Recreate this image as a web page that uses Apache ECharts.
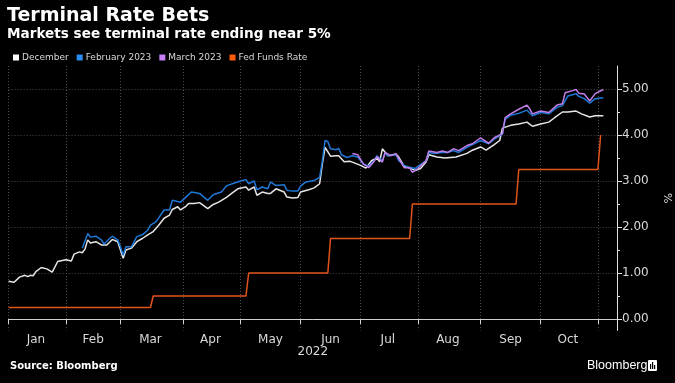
<!DOCTYPE html>
<html>
<head>
<meta charset="utf-8">
<script src="https://cdn.jsdelivr.net/npm/echarts@6/dist/echarts.min.js"></script>
<style>
html,body{margin:0;padding:0;background:#000;}
#chart{width:675px;height:383px;}
</style>
</head>
<body>
<div id="chart"></div>
<script>
// ---------- text ----------
const chartTitle = 'Terminal Rate Bets';
const chartSubtitle = 'Markets see terminal rate ending near 5%';
const sourceText = 'Source: Bloomberg';
const brandText = 'Bloomberg';
const yearLabel = '2022';
const yUnit = '%';
const seriesNames = ['December', 'February 2023', 'March 2023', 'Fed Funds Rate'];
const monthNames = ['Jan','Feb','Mar','Apr','May','Jun','Jul','Aug','Sep','Oct','Nov','Dec'];
const yTicks = [0, 1, 2, 3, 4, 5];
const yMinorTicks = [0.5, 1.5, 2.5, 3.5, 4.5];

// ---------- x categories: trading days (weekdays) of 2022 from Jan 3 ----------
const tradingDayCount = 224;
const tradingDays = [];
(function () {
  const d = new Date(Date.UTC(2022, 0, 3));
  while (tradingDays.length < tradingDayCount) {
    const wd = d.getUTCDay();
    if (wd !== 0 && wd !== 6) tradingDays.push(d.toISOString().slice(0, 10));
    d.setUTCDate(d.getUTCDate() + 1);
  }
})();

// ---------- series (x = trading-day number, y = rate %) ----------
const decDay = [0,2,4,6,7,8,9,10,12,14,16,18,21,23,24,26,27,28,29,30,32,34,36,38,40,41,42,43,45,47,49,51,53,55,57,59,60,62,63,65,66,68,70,73,75,77,80,82,84,87,88,90,91,93,95,96,98,101,102,104,106,107,110,112,114,115,116,118,120,121,123,125,126,129,131,133,135,136,137,139,142,143,145,147,149,151,153,154,157,160,164,168,170,173,175,178,180,181,184,187,190,192,195,198,200,203,205,208,210,213,215,218];
const decVal = [0.82,0.80,0.91,0.95,0.92,0.95,0.94,1.03,1.12,1.09,1.02,1.25,1.29,1.26,1.41,1.46,1.44,1.52,1.72,1.65,1.68,1.61,1.61,1.73,1.68,1.50,1.32,1.50,1.54,1.68,1.75,1.83,1.90,2.04,2.19,2.26,2.38,2.44,2.37,2.45,2.51,2.51,2.53,2.40,2.49,2.54,2.65,2.74,2.83,2.87,2.80,2.87,2.69,2.76,2.73,2.73,2.83,2.76,2.65,2.63,2.64,2.76,2.81,2.85,2.94,3.37,3.73,3.54,3.55,3.55,3.42,3.43,3.41,3.34,3.28,3.44,3.50,3.42,3.70,3.55,3.59,3.52,3.32,3.28,3.23,3.27,3.41,3.57,3.52,3.50,3.52,3.60,3.67,3.74,3.67,3.79,3.88,4.15,4.21,4.24,4.28,4.19,4.24,4.28,4.37,4.50,4.50,4.52,4.46,4.39,4.42,4.42];

const febDay = [27,29,30,32,34,35,37,38,40,41,42,43,45,47,49,51,52,54,57,59,60,63,65,67,70,73,75,78,80,82,85,87,88,90,91,93,95,96,98,101,102,104,106,107,109,112,114,115,116,117,118,120,121,122,124,126,128,130,132,134,135,137,138,139,142,143,145,147,149,150,153,154,156,159,161,163,165,168,170,173,176,178,181,182,184,187,190,192,195,198,201,203,205,207,208,209,211,213,215,218];
const febVal = [1.54,1.86,1.78,1.80,1.72,1.63,1.75,1.80,1.72,1.57,1.39,1.57,1.57,1.79,1.83,1.93,2.04,2.11,2.37,2.37,2.58,2.54,2.65,2.76,2.73,2.58,2.70,2.76,2.90,2.94,3.00,3.03,2.94,3.00,2.81,2.87,2.83,2.98,2.90,2.92,2.80,2.78,2.78,2.89,2.98,3.01,3.08,3.44,3.88,3.86,3.70,3.68,3.71,3.57,3.51,3.55,3.52,3.37,3.32,3.44,3.55,3.44,3.62,3.55,3.57,3.44,3.34,3.30,3.27,3.32,3.44,3.62,3.60,3.62,3.62,3.66,3.62,3.73,3.79,3.88,3.81,3.91,4.02,4.34,4.43,4.47,4.54,4.42,4.49,4.46,4.60,4.64,4.85,4.88,4.90,4.84,4.79,4.69,4.79,4.81];

const marDay = [126,128,130,132,134,135,137,138,140,142,144,145,147,148,150,153,154,157,159,161,163,165,168,170,173,176,178,181,182,184,187,190,191,192,195,198,201,203,204,207,208,209,211,213,215,218];
const marVal = [3.60,3.57,3.37,3.29,3.43,3.53,3.41,3.62,3.55,3.59,3.39,3.29,3.29,3.19,3.27,3.44,3.65,3.62,3.65,3.62,3.70,3.66,3.77,3.81,3.94,3.82,3.94,4.03,4.38,4.46,4.56,4.65,4.57,4.46,4.52,4.49,4.65,4.68,4.92,4.97,4.99,4.91,4.89,4.74,4.90,4.99];

const fedDay = [0,52,53,87,88,117,118,147,148,186,187,216,217];
const fedVal = [0.25,0.25,0.50,0.50,1.00,1.00,1.75,1.75,2.50,2.50,3.25,3.25,4.00];

// ---------- styles ----------
const lineColors = ['#e6e6e6', '#1f78d6', '#c07ee8', '#e2541b'];
const legendColors = ['#ffffff', '#2b8cf2', '#c77ef7', '#ff5a0a'];
const textColor = '#d9d9d9';
const gridColor = '#4a4a4a';
const font = 'DejaVu Sans';

const pairs = (xs, ys) => xs.map((x, i) => [x, ys[i]]);

// month starts and mid-month label positions
const monthOf = s => parseInt(s.slice(5, 7), 10) - 1;
const monthStarts = [];
tradingDays.forEach((d, i) => { if (i === 0 || monthOf(d) !== monthOf(tradingDays[i - 1])) monthStarts.push(i); });
const startSet = new Set(monthStarts);
const labelSet = new Set();
for (let k = 0; k < monthStarts.length - 1; k++) labelSet.add(Math.floor((monthStarts[k] + monthStarts[k + 1]) / 2));

const chart = echarts.init(document.getElementById('chart'), null, { renderer: 'canvas' });

const seriesData = [pairs(decDay, decVal), pairs(febDay, febVal), pairs(marDay, marVal), pairs(fedDay, fedVal)];

chart.setOption({
  backgroundColor: '#000',
  animation: false,
  textStyle: { fontFamily: font },
  title: [
    { text: chartTitle, left: 7, top: 7, padding: 0,
      textStyle: { color: '#ffffff', fontSize: 19, fontWeight: 'bold', fontFamily: font } },
    { text: chartSubtitle, left: 7, top: 27, padding: 0,
      textStyle: { color: '#ffffff', fontSize: 13.6, fontWeight: 'bold', fontFamily: font } }
  ],
  legend: {
    left: 13, top: 53, padding: 0,
    icon: 'rect', itemWidth: 6, itemHeight: 6, itemGap: 8,
    textStyle: { color: textColor, fontSize: 9, fontFamily: font, padding: [0, 0, 0, -2] },
    data: seriesNames.map((n, i) => ({ name: n, itemStyle: { color: legendColors[i] } }))
  },
  grid: { left: 8.6, right: 58, top: 66, bottom: 52.5, containLabel: false, outerBoundsMode: 'none' },
  xAxis: {
    type: 'category',
    data: tradingDays,
    boundaryGap: false,
    axisLine: { show: true, lineStyle: { color: '#d0d0d0', width: 1 } },
    axisTick: { show: true, length: 5, interval: (i) => startSet.has(i), lineStyle: { color: '#d0d0d0' } },
    axisLabel: {
      show: true, interval: (i) => labelSet.has(i), margin: 3,
      color: textColor, fontSize: 12, fontFamily: font,
      formatter: (v) => monthNames[monthOf(v)]
    },
    splitLine: { show: true, interval: (i) => startSet.has(i), lineStyle: { color: gridColor, type: [1, 2], width: 1 } },
    name: yearLabel, nameLocation: 'middle', nameGap: 21, nameMoveOverlap: false,
    nameTextStyle: { color: textColor, fontSize: 12, fontFamily: font, verticalAlign: 'middle' }
  },
  yAxis: [
    {
      type: 'value', position: 'right', min: -0.25, max: 5.5,
      axisLine: { show: true, lineStyle: { color: '#e0e0e0', width: 1 } },
      axisTick: { show: true, length: 5, customValues: yTicks, lineStyle: { color: '#e0e0e0' } },
      axisLabel: { show: true, customValues: yTicks, margin: 5, color: textColor, fontSize: 12, fontFamily: font,
        formatter: (v) => v.toFixed(2) },
      splitLine: { show: true, lineStyle: { color: gridColor, type: [1, 2], width: 1 } },
      name: yUnit, nameLocation: 'middle', nameGap: 44, nameRotate: -90,
      nameTextStyle: { color: textColor, fontSize: 11, fontFamily: font }
    },
    {
      type: 'value', position: 'right', min: -0.25, max: 5.5,
      axisLine: { show: false },
      axisTick: { show: true, length: 3, customValues: yMinorTicks, lineStyle: { color: '#e0e0e0' } },
      axisLabel: { show: false },
      splitLine: { show: false }
    }
  ],
  series: seriesNames.map((n, i) => ({
    name: n, type: 'line', yAxisIndex: 0,
    data: seriesData[i],
    showSymbol: false, symbol: 'none',
    lineStyle: { color: lineColors[i], width: 1.5 },
    itemStyle: { color: lineColors[i] },
    z: i === 3 ? 3 : 2
  })),
  graphic: [
    { type: 'text', left: 10, top: 361,
      style: { text: sourceText, fill: '#ffffff', font: 'bold 10px "DejaVu Sans"' } },
    { type: 'text', left: 587, top: 359,
      style: { text: brandText, fill: '#ffffff', font: '12.5px "Liberation Sans"' } },
    { type: 'group', left: 648, top: 360, children: [
      { type: 'rect', shape: { x: 0, y: 0, width: 9, height: 11, r: 1 }, style: { fill: '#ffffff' } },
      { type: 'rect', shape: { x: 2, y: 4, width: 1.2, height: 5 }, style: { fill: '#000' } },
      { type: 'rect', shape: { x: 4, y: 2, width: 1.2, height: 7 }, style: { fill: '#000' } },
      { type: 'rect', shape: { x: 6, y: 5, width: 1.2, height: 4 }, style: { fill: '#000' } }
    ] }
  ]
});
</script>
</body>
</html>
